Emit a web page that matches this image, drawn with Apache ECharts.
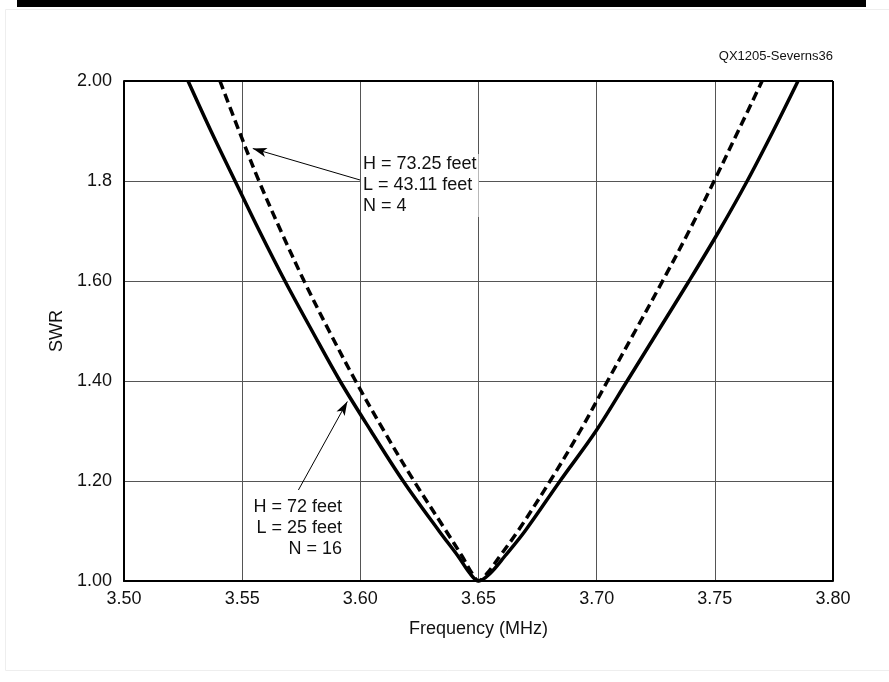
<!DOCTYPE html>
<html>
<head>
<meta charset="utf-8">
<title>SWR vs Frequency</title>
<script src="https://cdn.jsdelivr.net/npm/echarts@6/dist/echarts.min.js"></script>
<style>
    html, body { margin: 0; padding: 0; background: #fff; }
    #main { width: 889px; height: 682px; }
</style>
</head>
<body>
<div id="main"></div>
<script>
// 横坐标刻度与纵坐标刻度
var xTicks = ['3.50', '3.55', '3.60', '3.65', '3.70', '3.75', '3.80'];
var yTicks = ['1.00', '1.20', '1.40', '1.60', '1.8', '2.00'];

// H = 72 feet, L = 25 feet, N = 16 (实线)
var freq16 = [3.5271, 3.5368, 3.5470, 3.5573, 3.5681, 3.5796, 3.5914, 3.6045, 3.6181, 3.6333, 3.6413, 3.6464, 3.6500,
    3.6549, 3.6612, 3.6697, 3.6845, 3.6997, 3.7129, 3.7260, 3.7391, 3.7518, 3.7637, 3.7747, 3.7852];
var swr16 = [2.00, 1.90, 1.80, 1.70, 1.60, 1.50, 1.40, 1.30, 1.20, 1.10, 1.05, 1.015, 1.00,
    1.015, 1.05, 1.10, 1.20, 1.30, 1.40, 1.50, 1.60, 1.70, 1.80, 1.90, 2.00];

// H = 73.25 feet, L = 43.11 feet, N = 4 (虚线)
var freq4 = [3.5406, 3.5487, 3.5571, 3.5664, 3.5762, 3.5868, 3.5980, 3.6100, 3.6227, 3.6363, 3.6430, 3.6473, 3.6500,
    3.6536, 3.6591, 3.6667, 3.6803, 3.6930, 3.7046, 3.7163, 3.7279, 3.7391, 3.7497, 3.7599, 3.7700];
var swr4 = [2.00, 1.90, 1.80, 1.70, 1.60, 1.50, 1.40, 1.30, 1.20, 1.10, 1.05, 1.015, 1.00,
    1.015, 1.05, 1.10, 1.20, 1.30, 1.40, 1.50, 1.60, 1.70, 1.80, 1.90, 2.00];

// 标注箭头 [尾, 头]
var arrow4 = [[3.5999, 1.802], [3.5545, 1.865]];
var arrow16 = [[3.5738, 1.182], [3.5945, 1.359]];

function pairs(xs, ys) {
    var out = [];
    for (var i = 0; i < xs.length; i++) {
        out.push([xs[i], ys[i]]);
    }
    return out;
}

var font = 'Liberation Sans, Arial, sans-serif';
var chart = echarts.init(document.getElementById('main'));

function arrowLine(a) {
    return {
        silent: true,
        symbol: ['none', 'arrow'],
        symbolSize: [7, 14],
        label: { show: false },
        lineStyle: { color: '#000', width: 1, type: 'solid' },
        data: [[{ coord: a[0] }, { coord: a[1] }]]
    };
}

var option = {
    animation: false,
    backgroundColor: '#fff',
    textStyle: { fontFamily: font },
    grid: { left: 124, top: 81, right: 56, bottom: 101, show: false },
    xAxis: {
        type: 'value',
        min: 3.5,
        max: 3.8,
        interval: 0.05,
        name: 'Frequency (MHz)',
        nameLocation: 'middle',
        nameGap: 39,
        nameTextStyle: { fontSize: 18, color: '#111', fontFamily: font },
        axisLine: { show: true, onZero: false, lineStyle: { color: '#000', width: 2 } },
        axisTick: { show: false },
        axisLabel: {
            fontSize: 18, color: '#111', margin: 9, fontFamily: font,
            formatter: function (v) {
                var i = Math.round((v - 3.5) / 0.05);
                return xTicks[i] || '';
            }
        },
        splitLine: { show: true, lineStyle: { color: '#555', width: 1 } }
    },
    yAxis: {
        type: 'value',
        min: 1,
        max: 2,
        interval: 0.2,
        name: 'SWR',
        nameLocation: 'middle',
        nameGap: 52,
        nameRotate: 90,
        nameTextStyle: { fontSize: 18, color: '#111', fontFamily: font },
        axisLine: { show: true, lineStyle: { color: '#000', width: 2 } },
        axisTick: { show: false },
        axisLabel: {
            fontSize: 18, color: '#111', margin: 12, fontFamily: font,
            formatter: function (v) {
                var i = Math.round((v - 1) / 0.2);
                return yTicks[i] || '';
            }
        },
        splitLine: { show: true, lineStyle: { color: '#555', width: 1 } }
    },
    graphic: [
        // 顶部黑条与外框
        { type: 'rect', left: 3, top: 7, shape: { width: 890, height: 661 }, style: { fill: 'none', stroke: '#eee', lineWidth: 1 }, silent: true },
        { type: 'rect', left: 17, top: 0, shape: { width: 849, height: 7 }, style: { fill: '#000' }, silent: true },
        // 右边框与上边框
        { type: 'line', shape: { x1: 124, y1: 81, x2: 833, y2: 81 }, style: { stroke: '#000', lineWidth: 2 }, z: 10 },
        { type: 'line', shape: { x1: 833, y1: 81, x2: 833, y2: 581 }, style: { stroke: '#000', lineWidth: 2 }, z: 10 },
        {
            type: 'text', right: 56, top: 50,
            style: { text: 'QX1205-Severns36', fontSize: 13, fill: '#111', fontFamily: font }
        },
        {
            type: 'text', x: 361, y: 154, z: 20,
            style: {
                text: 'H = 73.25 feet\nL = 43.11 feet\nN = 4',
                fontSize: 18, lineHeight: 21, fill: '#111', fontFamily: font,
                align: 'left', verticalAlign: 'top',
                backgroundColor: '#fff', padding: [0, 2, 0, 2]
            }
        },
        {
            type: 'text', x: 344, y: 497, z: 20,
            style: {
                text: 'H = 72 feet\nL = 25 feet\nN = 16',
                fontSize: 18, lineHeight: 21, fill: '#111', fontFamily: font,
                align: 'right', verticalAlign: 'top',
                backgroundColor: '#fff', padding: [0, 2, 0, 2]
            }
        }
    ],
    series: [
        {
            name: 'N = 16',
            type: 'line',
            data: pairs(freq16, swr16),
            showSymbol: false,
            smooth: 0.35,
            lineStyle: { color: '#000', width: 3.5 },
            z: 5,
            markLine: arrowLine(arrow16)
        },
        {
            name: 'N = 4',
            type: 'line',
            data: pairs(freq4, swr4),
            showSymbol: false,
            smooth: 0.35,
            lineStyle: { color: '#000', width: 3.5, type: [9, 5] },
            z: 5,
            markLine: arrowLine(arrow4)
        }
    ]
};
chart.setOption(option);
</script>
</body>
</html>
